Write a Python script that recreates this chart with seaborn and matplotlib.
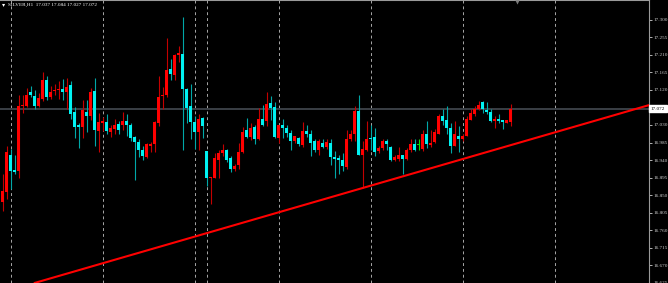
import numpy as np
import pandas as pd
import matplotlib
matplotlib.use("Agg")
import matplotlib.pyplot as plt
import seaborn as sns

# ---------------- data ----------------
symbol = "SILVER,H1"

opens = [
    16.831, 16.858, 16.954, 16.914, 16.912, 17.078, 17.078, 17.114, 17.105, 17.078,
    17.097, 17.146, 17.102, 17.117, 17.119, 17.123, 17.116, 17.134, 17.063, 17.029,
    17.025, 17.064, 17.054, 17.118, 17.014, 17.036, 17.037, 17.011, 17.020, 17.033,
    17.031, 17.041, 17.031, 16.999, 16.986, 16.965, 16.948, 16.977, 16.980, 17.034,
    17.104, 17.108, 17.174, 17.159, 17.211, 17.213, 17.123, 17.078, 17.037, 17.012,
    17.048, 16.963, 16.893, 16.893, 16.941, 16.957, 16.967, 16.946, 16.918, 16.927,
    16.960, 17.016, 17.000, 17.024, 16.993, 17.046, 17.040, 17.087, 17.075, 16.997,
    17.029, 17.023, 17.010, 16.990, 16.997, 16.978, 17.014, 17.008, 16.988, 16.967,
    16.984, 16.974, 16.984, 16.947, 16.944, 16.939, 16.923, 16.995, 17.008, 17.065,
    16.952, 16.965, 16.997, 16.999, 16.963, 16.971, 16.988, 16.974, 16.939, 16.943,
    16.952, 16.943, 16.965, 16.982, 16.978, 16.969, 17.008, 16.978, 16.986, 17.008,
    17.054, 17.044, 17.023, 16.977, 17.003, 16.993, 17.003, 17.044, 17.057, 17.070,
    17.089, 17.068, 17.063, 17.041, 17.046, 17.043, 17.036, 17.037,
]
highs = [
    16.903, 16.976, 16.969, 16.952, 17.108, 17.108, 17.126, 17.131, 17.121, 17.113,
    17.165, 17.157, 17.131, 17.136, 17.144, 17.148, 17.151, 17.144, 17.076, 17.036,
    17.095, 17.093, 17.125, 17.151, 17.061, 17.051, 17.059, 17.031, 17.046, 17.041,
    17.063, 17.059, 17.036, 17.003, 16.994, 16.976, 16.984, 16.986, 17.039, 17.157,
    17.127, 17.253, 17.199, 17.213, 17.232, 17.308, 17.125, 17.136, 17.054, 17.057,
    17.051, 16.963, 16.896, 16.957, 16.967, 16.980, 16.969, 16.950, 16.930, 16.984,
    17.025, 17.047, 17.036, 17.031, 17.074, 17.082, 17.116, 17.104, 17.088, 17.029,
    17.046, 17.031, 17.017, 17.003, 17.000, 17.037, 17.029, 17.017, 16.993, 16.993,
    16.994, 16.993, 16.994, 16.963, 16.952, 16.959, 17.018, 17.016, 17.078, 17.108,
    16.988, 17.041, 17.031, 17.023, 16.976, 16.994, 16.993, 16.977, 16.954, 16.973,
    16.954, 16.971, 16.994, 16.993, 16.993, 17.018, 17.040, 17.018, 17.020, 17.057,
    17.070, 17.080, 17.036, 17.040, 17.027, 17.006, 17.052, 17.070, 17.078, 17.091,
    17.091, 17.088, 17.070, 17.054, 17.057, 17.044, 17.044, 17.084,
]
lows = [
    16.809, 16.839, 16.865, 16.903, 16.895, 17.062, 17.077, 17.103, 17.072, 17.075,
    17.091, 17.093, 17.097, 17.108, 17.097, 17.095, 17.071, 17.046, 16.997, 16.971,
    16.997, 17.011, 17.044, 16.977, 16.960, 17.014, 17.006, 16.999, 17.008, 17.008,
    17.018, 17.003, 16.988, 16.888, 16.948, 16.941, 16.946, 16.960, 16.960, 17.027,
    17.071, 17.102, 17.145, 17.146, 17.192, 16.965, 17.036, 16.995, 16.969, 16.967,
    16.997, 16.873, 16.828, 16.893, 16.895, 16.950, 16.936, 16.910, 16.913, 16.918,
    16.959, 16.997, 16.991, 16.980, 16.991, 17.027, 17.027, 17.044, 16.997, 16.984,
    16.997, 17.000, 16.967, 16.984, 16.977, 16.974, 17.000, 16.950, 16.960, 16.954,
    16.971, 16.969, 16.926, 16.895, 16.905, 16.912, 16.916, 16.988, 16.988, 16.952,
    16.869, 16.963, 16.967, 16.950, 16.959, 16.967, 16.967, 16.937, 16.937, 16.937,
    16.903, 16.941, 16.960, 16.963, 16.965, 16.963, 16.972, 16.974, 16.985, 17.006,
    17.031, 17.008, 16.957, 16.976, 16.960, 16.988, 17.001, 17.042, 17.054, 17.068,
    17.061, 17.057, 17.037, 17.023, 17.036, 17.021, 17.034, 17.027,
]
closes = [
    16.861, 16.960, 16.913, 16.909, 17.080, 17.082, 17.106, 17.107, 17.078, 17.099,
    17.145, 17.102, 17.116, 17.120, 17.123, 17.116, 17.128, 17.059, 17.025, 17.024,
    17.068, 17.054, 17.114, 17.016, 17.038, 17.039, 17.014, 17.023, 17.031, 17.016,
    17.039, 17.031, 16.997, 16.986, 16.965, 16.950, 16.982, 16.982, 17.037, 17.101,
    17.108, 17.172, 17.162, 17.210, 17.215, 17.123, 17.074, 17.037, 17.012, 17.046,
    17.027, 16.895, 16.896, 16.944, 16.958, 16.965, 16.941, 16.918, 16.924, 16.961,
    17.012, 17.000, 17.023, 16.995, 17.046, 17.031, 17.085, 17.074, 16.999, 17.029,
    17.023, 17.010, 16.990, 17.001, 16.982, 17.014, 17.006, 16.984, 16.965, 16.988,
    16.974, 16.986, 16.947, 16.943, 16.939, 16.924, 16.995, 17.008, 17.067, 16.952,
    16.969, 16.993, 16.994, 16.960, 16.971, 16.990, 16.980, 16.939, 16.947, 16.954,
    16.943, 16.965, 16.982, 16.965, 16.978, 17.008, 16.980, 16.985, 17.011, 17.052,
    17.040, 17.023, 16.977, 17.006, 16.993, 17.001, 17.046, 17.061, 17.070, 17.081,
    17.070, 17.063, 17.041, 17.046, 17.041, 17.037, 17.042, 17.072,
]

# period separators (bar index), trend line anchors (bar index, price)
separators = [2, 25, 48, 51, 69, 92, 115, 138]
trend_x = [9, 90]
trend_price = [16.627, 16.868]
price_ticks = [17.300, 17.255, 17.210, 17.165, 17.120, 17.030, 16.985, 16.940,
               16.895, 16.850, 16.805, 16.760, 16.715, 16.670, 16.625]
shift_marker_bar = 128.6

# ---------------- styling ----------------
sns.set_style("dark", {"axes.facecolor": "black", "figure.facecolor": "black",
                       "axes.grid": False})
plt.rcParams['font.family'] = ['Liberation Serif', 'DejaVu Sans']

BULL_BODY, BULL_WICK = "#ff0000", "#c40000"
BEAR_BODY, BEAR_WICK = "#00f2f2", "#00a8a8"
DOJI = "#00e000"

df = pd.DataFrame({"open": opens, "high": highs, "low": lows, "close": closes})
df["bar"] = np.arange(len(df))
df["kind"] = np.where(df.close > df.open, "bull",
                      np.where(df.close < df.open, "bear", "doji"))
body_col = df.kind.map({"bull": BULL_BODY, "bear": BEAR_BODY, "doji": DOJI})
wick_col = df.kind.map({"bull": BULL_WICK, "bear": BEAR_WICK, "doji": DOJI})

W, H = 668, 283
fig = plt.figure(figsize=(W / 100, H / 100), dpi=100)
fig.patch.set_facecolor("black")
ax = fig.add_axes([0, 0, 649 / W, 1])
ax.set_facecolor("black")

ax.set_xlim(-0.625, 161.625)
ax.set_ylim(16.624, 17.3512)

# period separators
for s in separators:
    ax.axvline(s, color="#a8a8a8", lw=0.7, ls=(0, (3, 3)), zorder=1)

# bid line
ax.axhline(closes[-1], color="#3a3f45", lw=1.4, zorder=1)

# candles
ax.vlines(df.bar, df.low, df.high, colors=wick_col, lw=0.8, zorder=3)
body_h = np.maximum((df.close - df.open).abs(), 0.0022)
ax.bar(df.bar, body_h, bottom=np.minimum(df.open, df.close), width=0.72,
       color=body_col, linewidth=0, zorder=4)

# trend line
ax.axline((trend_x[0], trend_price[0]), (trend_x[1], trend_price[1]),
          color="#ff0000", lw=1.5, zorder=5)

# chart shift marker
ax.plot([shift_marker_bar], [17.346], marker="v", ms=3, color="#7a7a7a",
        mec="none", zorder=6, clip_on=False)

# spines
for side in ["left", "bottom"]:
    ax.spines[side].set_visible(False)
for side in ["top", "right"]:
    ax.spines[side].set_visible(True)
    ax.spines[side].set_color("#9a9a9a")
ax.spines["top"].set_linewidth(1.5)
ax.spines["right"].set_linewidth(0.8)

ax.set_xticks([])
ax.yaxis.tick_right()
ax.set_yticks(price_ticks)
ax.set_yticklabels([f"{t:.3f}" for t in price_ticks])
ax.tick_params(axis="y", colors="#d0d0d0", labelsize=3.7, length=2, width=0.6,
               pad=1.0, direction="out")

# current price label
ax.annotate(f"{closes[-1]:.3f}", xy=(1.0, closes[-1]),
            xycoords=("axes fraction", "data"), xytext=(1.3, 0),
            textcoords="offset points", va="center", ha="left",
            fontsize=3.7, color="black",
            bbox=dict(boxstyle="square,pad=0.3", fc="white", ec="white"))

# header text
fig.text(0.003, 0.992, "\u25be", color="white", fontsize=4.5, va="top", ha="left",
         family="DejaVu Sans")
fig.text(0.012, 0.99,
         f"{symbol}  {opens[-1]:.3f} {highs[-1]:.3f} {lows[-1]:.3f} {closes[-1]:.3f}",
         color="white", fontsize=3.7, va="top", ha="left")

fig.savefig("out.png", dpi=100, facecolor="black")
